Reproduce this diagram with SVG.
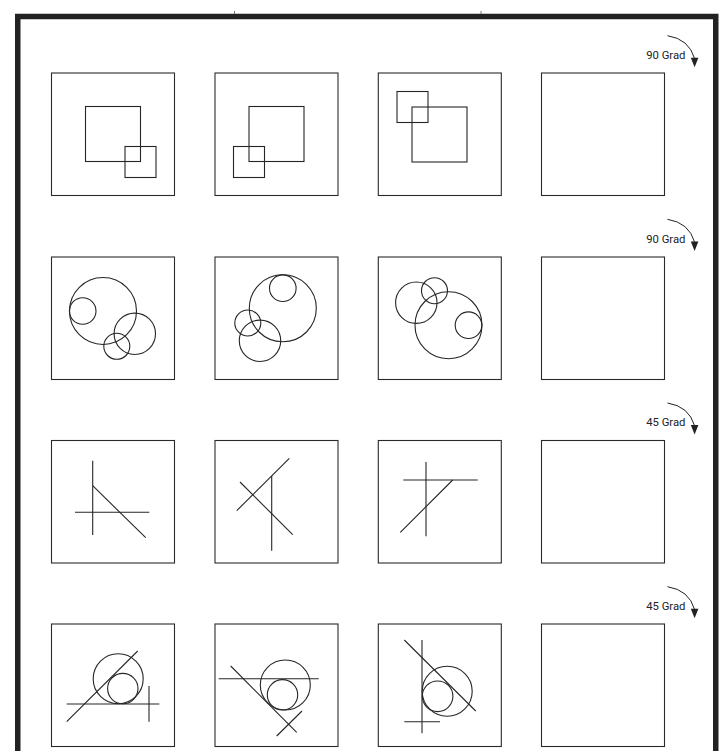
<svg xmlns="http://www.w3.org/2000/svg" width="728" height="751" viewBox="0 0 728 751">
<defs>
<style>
.box{fill:#fff;stroke:#2a2a2a;stroke-width:1.1}
.s{fill:none;stroke:#262626;stroke-width:1.1}
.lbl{font-family:Roboto,"Liberation Sans",sans-serif;font-size:11.3px;fill:#222}
.arc{fill:none;stroke:#222;stroke-width:1}
.head{fill:#222}
.frame{fill:none;stroke:#222;stroke-width:5.5}
</style>
</defs>
<rect x="0" y="0" width="728" height="751" fill="#fff"/>
<path class="frame" d="M17.75,760 V16.5 H715.75 V760"/>
<line x1="234.5" y1="11" x2="234.5" y2="14" stroke="#777" stroke-width="1"/>
<line x1="481" y1="11" x2="481" y2="14" stroke="#777" stroke-width="1"/>

<!-- Row 1: squares -->
<g id="r1c1"><rect class="box" x="51.5" y="73" width="123" height="122.5"/>
<rect class="s" x="85.5" y="106.5" width="55" height="55"/><rect class="s" x="125" y="146.5" width="31" height="31"/></g>
<g id="r1c2"><rect class="box" x="215" y="73" width="123" height="122.5"/>
<rect class="s" x="249" y="106.5" width="55" height="55"/><rect class="s" x="233.5" y="146.5" width="31" height="31"/></g>
<g id="r1c3"><rect class="box" x="378.3" y="73" width="123" height="122.5"/>
<rect class="s" x="412" y="107" width="55" height="55"/><rect class="s" x="397" y="91.5" width="31" height="31"/></g>
<g id="r1c4"><rect class="box" x="541.5" y="73" width="123" height="122.5"/></g>

<!-- Row 2: circles -->
<g id="r2c1"><rect class="box" x="51.5" y="257" width="123" height="122.5"/>
<circle class="s" cx="103" cy="311" r="33.5"/><circle class="s" cx="82.7" cy="311" r="13.3"/>
<circle class="s" cx="134.8" cy="333.8" r="20.7"/><circle class="s" cx="116.8" cy="346.3" r="13"/></g>
<g id="r2c2"><rect class="box" x="215" y="257" width="123" height="122.5"/>
<circle class="s" cx="282.8" cy="308.3" r="33.5"/><circle class="s" cx="282.8" cy="288.2" r="13.3"/>
<circle class="s" cx="247.8" cy="323" r="13"/><circle class="s" cx="260" cy="340.8" r="20.7"/></g>
<g id="r2c3"><rect class="box" x="378.3" y="257" width="123" height="122.5"/>
<circle class="s" cx="448.5" cy="325.2" r="33.5"/><circle class="s" cx="416.3" cy="302.7" r="20.7"/>
<circle class="s" cx="434.5" cy="290.7" r="13"/><circle class="s" cx="468.5" cy="325.2" r="13.3"/></g>
<g id="r2c4"><rect class="box" x="541.5" y="257" width="123" height="122.5"/></g>

<!-- Row 3: lines -->
<g id="r3c1"><rect class="box" x="51.5" y="440.5" width="123" height="122.5"/>
<line class="s" x1="92.7" y1="460.7" x2="92.7" y2="535"/><line class="s" x1="75" y1="512.3" x2="149.3" y2="512.3"/>
<line class="s" x1="92.7" y1="485.7" x2="145.7" y2="537.7"/></g>
<g id="r3c2"><rect class="box" x="215" y="440.5" width="123" height="122.5"/>
<line class="s" x1="271.7" y1="476" x2="271.7" y2="550.7"/><line class="s" x1="236.7" y1="510.7" x2="289.3" y2="458.3"/>
<line class="s" x1="240" y1="482" x2="292.7" y2="534.7"/></g>
<g id="r3c3"><rect class="box" x="378.3" y="440.5" width="123" height="122.5"/>
<line class="s" x1="426" y1="462" x2="426" y2="536.3"/><line class="s" x1="403.3" y1="480" x2="477.7" y2="480"/>
<line class="s" x1="400.3" y1="532.3" x2="452.7" y2="480"/></g>
<g id="r3c4"><rect class="box" x="541.5" y="440.5" width="123" height="122.5"/></g>

<!-- Row 4: circles and lines -->
<g id="r4c1"><rect class="box" x="51.5" y="624" width="123" height="122.5"/>
<circle class="s" cx="118.2" cy="678.8" r="25"/><circle class="s" cx="122.8" cy="688.6" r="15.2"/>
<line class="s" x1="66.7" y1="704" x2="159.3" y2="704"/><line class="s" x1="149" y1="686" x2="149" y2="721.7"/>
<line class="s" x1="66.7" y1="721.7" x2="137.7" y2="651"/></g>
<g id="r4c2"><rect class="box" x="215" y="624" width="123" height="122.5"/>
<line class="s" x1="218.7" y1="678.7" x2="318.7" y2="678.7"/>
<circle class="s" cx="285.3" cy="685" r="25"/><circle class="s" cx="282.5" cy="694.8" r="15.2"/>
<line class="s" x1="230.7" y1="666" x2="296.7" y2="732.3"/><line class="s" x1="276.7" y1="736" x2="302" y2="711"/></g>
<g id="r4c3"><rect class="box" x="378.3" y="624" width="123" height="122.5"/>
<line class="s" x1="422" y1="640" x2="422" y2="733.3"/><line class="s" x1="404.3" y1="721.7" x2="440" y2="721.7"/>
<line class="s" x1="404.3" y1="640" x2="475.7" y2="711"/>
<circle class="s" cx="447.2" cy="691.3" r="25"/><circle class="s" cx="437.6" cy="696.3" r="15.3"/></g>
<g id="r4c4"><rect class="box" x="541.5" y="624" width="123" height="122.5"/></g>

<!-- Rotation indicators -->
<g id="connectors">
<path class="arc" d="M667.5,35.7 Q689,39 694.6,58.5"/><polygon class="head" points="690.8,57.8 698.4,57.8 694.6,67.3"/>
<path class="arc" d="M667.5,219.3 Q689,222.6 694.6,242.1"/><polygon class="head" points="690.8,241.4 698.4,241.4 694.6,250.9"/>
<path class="arc" d="M667.5,403 Q689,406.3 694.6,425.8"/><polygon class="head" points="690.8,425.1 698.4,425.1 694.6,434.6"/>
<path class="arc" d="M667.5,586.7 Q689,590 694.6,609.5"/><polygon class="head" points="690.8,608.8 698.4,608.8 694.6,618.3"/>
</g>
<g id="labels">
<text class="lbl" x="685.5" y="59" text-anchor="end">90 Grad</text>
<text class="lbl" x="685.5" y="242.7" text-anchor="end">90 Grad</text>
<text class="lbl" x="685.5" y="426.3" text-anchor="end">45 Grad</text>
<text class="lbl" x="685.5" y="610" text-anchor="end">45 Grad</text>
</g>
</svg>
